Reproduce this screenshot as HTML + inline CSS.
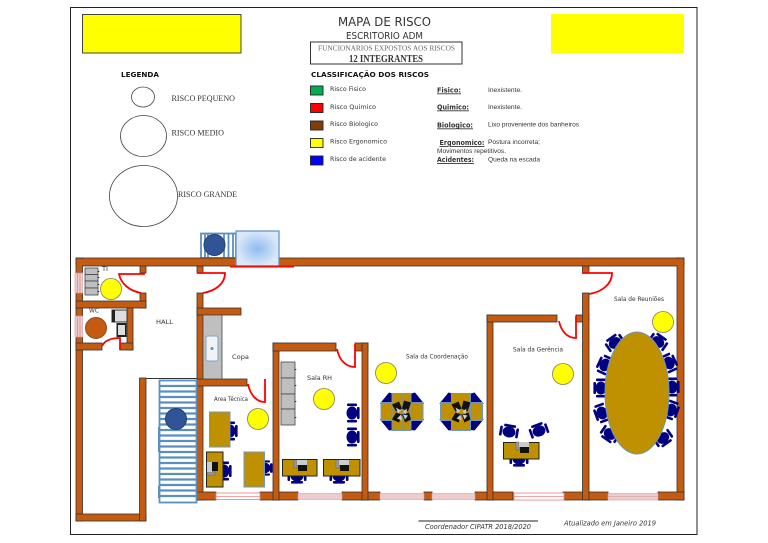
<!DOCTYPE html>
<html><head><meta charset="utf-8"><style>
html,body{margin:0;padding:0;background:#fff}
svg{display:block}
text{font-family:"DejaVu Sans","Liberation Sans",sans-serif;fill:#333}
.s{font-family:"Liberation Serif",serif;fill:#333}
.l{font-family:"Liberation Sans",sans-serif}
.w{fill:#c55a11;stroke:#333;stroke-width:.8}
.d{fill:none;stroke:#f00;stroke-width:1.8}
.y{fill:#ff0;stroke:#7f7f50;stroke-width:.8}
.k{fill:#bf9000;stroke:#222;stroke-width:1}
.kb{fill:#bf9000;stroke:#6c97c0;stroke-width:1}
.g{fill:#bfbfbf;stroke:#444;stroke-width:.8}
.win{fill:#eccccc;stroke:#dba8a8;stroke-width:.7}
.win2{fill:#fff;stroke:#e88;stroke-width:.9}
</style></head><body>
<svg width="768" height="543" viewBox="0 0 768 543" xmlns="http://www.w3.org/2000/svg">
<defs>
<radialGradient id="gb"><stop offset="0" stop-color="#8fbcf0"/><stop offset="1" stop-color="#dbe8f8"/></radialGradient>
<g id="chair" fill="#000080"><ellipse cx="0" cy="0" rx="5.5" ry="6.5"/><rect x="-5" y="-9.500" width="10" height="2.600" rx="1"/><rect x="-5" y="6.900" width="10" height="2.600" rx="1"/><rect x="5" y="-6" width="2.600" height="12" rx="1"/></g>
<g id="pc"><rect x="-8" y="-6" width="3" height="8" fill="#999" stroke="#555" stroke-width=".4"/><rect x="-5" y="-6" width="10" height="5" fill="#ccc"/><rect x="-4" y="-1" width="9" height="6" fill="#111"/></g>
<g id="cluster">
<path d="M-22-8L-13-19-6-17-8-6-20-6ZM22-8L13-19 6-17 8-6 20-6ZM-22 8L-13 19-6 18-8 6-20 6ZM22 8L13 19 6 18 8 6 20 6Z" fill="#000080"/>
<rect x="-21" y="-9" width="42" height="18" fill="#bf9000" stroke="#6c97c0"/><rect x="-10" y="-18" width="19" height="37" fill="#bf9000" stroke="#6c97c0"/><path d="M-21 0H21M0-18V19" stroke="#6c97c0" fill="none"/>
<path d="M-10-7L-3-10 0-3-6 0ZM9-9L2-11 0-3 6 0ZM-10 8L-3 11 0 3-6 1ZM9 8L3 11 0 3 7 1Z" fill="#111"/><path d="M-6-4L-1-1-4 2ZM5-3L1 0 4 3ZM-5 7L-1 3 0 9ZM3 8L1 3 6 4Z" fill="#ccc"/></g>
</defs>
<rect width="768" height="543" fill="#fff"/>
<rect x="70.500" y="7.500" width="626.500" height="527" fill="#fff" stroke="#222" stroke-width="1"/>
<rect x="82.500" y="14.500" width="158.500" height="38.500" fill="#ff0" stroke="#444"/>
<rect x="551" y="14" width="133" height="39" fill="#ff0"/>
<text x="338" y="26" font-size="12" textLength="93" lengthAdjust="spacingAndGlyphs">MAPA DE RISCO</text>
<text x="346" y="39" font-size="10" textLength="77" lengthAdjust="spacingAndGlyphs">ESCRITORIO ADM</text>
<rect x="310.500" y="42" width="151.500" height="22" fill="#fff" stroke="#333"/>
<text class="s" x="318" y="50.500" font-size="7" textLength="137" lengthAdjust="spacingAndGlyphs" style="fill:#666">FUNCIONARIOS EXPOSTOS AOS RISCOS</text>
<text class="s" x="349" y="62" font-size="10" font-weight="bold" textLength="74" lengthAdjust="spacingAndGlyphs">12 INTEGRANTES</text>
<text x="121" y="77" font-size="7" font-weight="bold" textLength="38" lengthAdjust="spacingAndGlyphs" style="fill:#111">LEGENDA</text>
<text x="311" y="77" font-size="7" font-weight="bold" textLength="118" lengthAdjust="spacingAndGlyphs" style="fill:#111">CLASSIFICAÇÃO DOS RISCOS</text>
<g fill="#fff" stroke="#444" stroke-width=".8"><ellipse cx="143" cy="97" rx="11.500" ry="10"/><ellipse cx="143.500" cy="136" rx="23" ry="20.500"/><ellipse cx="143.500" cy="196" rx="34" ry="30.500"/></g>
<text class="s" x="171.500" y="101" font-size="8.500" textLength="63.500" lengthAdjust="spacingAndGlyphs">RISCO PEQUENO</text>
<text class="s" x="171.500" y="135.500" font-size="8.500" textLength="52.500" lengthAdjust="spacingAndGlyphs">RISCO MEDIO</text>
<text class="s" x="178" y="197" font-size="8.500" textLength="59" lengthAdjust="spacingAndGlyphs">RISCO GRANDE</text>
<g stroke="#222" stroke-width=".9"><rect x="310.500" y="86" width="12.500" height="9" fill="#00b050"/><rect x="310.500" y="103.500" width="12.500" height="9" fill="#f00"/><rect x="310.500" y="121" width="12.500" height="9" fill="#843c0c"/><rect x="310.500" y="138.500" width="12.500" height="9" fill="#ff0"/><rect x="310.500" y="156" width="12.500" height="9" fill="#00f"/></g>
<g font-size="6.500"><text x="330" y="91" textLength="36" lengthAdjust="spacingAndGlyphs">Risco Fisico</text><text x="330" y="109" textLength="46" lengthAdjust="spacingAndGlyphs">Risco Quimico</text><text x="330" y="126" textLength="48" lengthAdjust="spacingAndGlyphs">Risco Biologico</text><text x="330" y="143.500" textLength="57" lengthAdjust="spacingAndGlyphs">Risco Ergonomico</text><text x="330" y="161" textLength="56" lengthAdjust="spacingAndGlyphs">Risco de acidente</text></g>
<g font-size="7" font-weight="bold" text-decoration="underline"><text x="437" y="92.500" textLength="24" lengthAdjust="spacingAndGlyphs">Fisico:</text><text x="437" y="109.500" textLength="32" lengthAdjust="spacingAndGlyphs">Quimico:</text><text x="437" y="127.500" textLength="36" lengthAdjust="spacingAndGlyphs">Biologico:</text><text x="439.500" y="145" textLength="45" lengthAdjust="spacingAndGlyphs">Ergonomico:</text><text x="437" y="162" textLength="37" lengthAdjust="spacingAndGlyphs">Acidentes:</text></g>
<g font-size="6"><text class="l" x="488" y="92" textLength="34" lengthAdjust="spacingAndGlyphs">Inexistente.</text><text class="l" x="488" y="109" textLength="34" lengthAdjust="spacingAndGlyphs">Inexistente.</text><text class="l" x="488" y="126.500" textLength="91" lengthAdjust="spacingAndGlyphs">Lixo proveniente dos banheiros</text><text class="l" x="488" y="144" textLength="52" lengthAdjust="spacingAndGlyphs">Postura incorreta;</text><text class="l" x="437" y="153" textLength="69" lengthAdjust="spacingAndGlyphs">Movimentos repetitivos.</text><text class="l" x="488" y="161.500" textLength="52" lengthAdjust="spacingAndGlyphs">Queda na escada</text></g>

<!-- AC units -->
<rect x="201" y="233.500" width="35" height="24.500" fill="#fff" stroke="#5b8fc0" stroke-width="1.800"/>
<path d="M205 233V258M208 233V258M224 233V258M228.500 233V258M233 233V258" stroke="#5b8fc0" stroke-width="1.800"/>
<circle cx="214.500" cy="245" r="10.500" fill="#2f5597" stroke="#223f70"/>

<!-- walls -->
<rect class="w" x="76" y="258" width="608" height="8"/>
<rect class="w" x="677" y="258" width="7" height="242"/>
<rect class="w" x="76" y="258" width="6.500" height="15"/>
<rect class="w" x="76" y="293" width="6.500" height="23"/>
<rect class="w" x="76" y="337" width="6.500" height="184"/>
<rect class="w" x="76" y="514" width="70" height="7"/>
<rect class="w" x="139.500" y="378" width="6.500" height="143"/>
<rect class="w" x="140" y="266" width="6" height="7"/>
<rect class="w" x="140" y="293" width="6" height="15"/>
<rect class="w" x="76" y="301" width="70" height="7"/>
<rect class="w" x="127" y="308" width="6" height="42"/>
<rect class="w" x="76" y="343" width="26" height="7"/>
<rect class="w" x="120" y="343" width="13" height="7"/>
<rect class="w" x="197" y="266" width="6" height="7"/>
<rect class="w" x="197" y="293" width="6" height="207"/>
<rect class="w" x="197" y="308" width="44" height="7"/>
<rect class="w" x="197" y="379" width="50" height="7"/>
<rect class="w" x="197" y="492" width="19" height="8"/>
<rect class="w" x="260" y="492" width="38" height="8"/>
<rect class="w" x="342" y="492" width="38" height="8"/>
<rect class="w" x="424" y="492" width="8" height="8"/>
<rect class="w" x="475" y="492" width="38" height="8"/>
<rect class="w" x="563" y="492" width="45" height="8"/>
<rect class="w" x="658" y="492" width="26" height="8"/>
<rect class="w" x="273" y="343" width="6" height="157"/>
<rect class="w" x="273" y="343" width="63" height="8"/>
<rect class="w" x="355" y="343" width="13" height="8"/>
<rect class="w" x="362" y="343" width="6" height="157"/>
<rect class="w" x="487" y="315" width="6" height="185"/>
<rect class="w" x="487" y="315" width="70" height="7"/>
<rect class="w" x="576" y="315" width="13" height="7"/>
<rect class="w" x="582.500" y="293" width="6.500" height="207"/>
<rect class="w" x="582.500" y="266" width="6.500" height="7"/>
<g fill="#c55a11"><rect x="76.500" y="259" width="607" height="6.500"/><rect x="677.500" y="493" width="6" height="6.500"/><rect x="197.500" y="380" width="5" height="5"/><rect x="273.500" y="493" width="5" height="6"/><rect x="362.500" y="493" width="5" height="6"/><rect x="487.500" y="493" width="5" height="6"/><rect x="583" y="493" width="5.500" height="6"/><rect x="273.500" y="344" width="5" height="6"/><rect x="362.500" y="344" width="5" height="6"/><rect x="487.500" y="316" width="5" height="5"/><rect x="583" y="316" width="5.500" height="5"/><rect x="197.500" y="309" width="5" height="5"/><rect x="127.500" y="302" width="5" height="5"/><rect x="127.500" y="344" width="5" height="5"/><rect x="76.500" y="302" width="5.500" height="5"/><rect x="76.500" y="344" width="5.500" height="5"/><rect x="76.500" y="515" width="5.500" height="5.500"/><rect x="140" y="515" width="5.500" height="5.500"/><rect x="140.500" y="302" width="5" height="5"/></g>
<path d="M146 378.500H197" stroke="#333" stroke-width="1"/>

<!-- windows -->
<rect class="win" x="75" y="273" width="7.500" height="20"/><rect class="win" x="75" y="316" width="7.500" height="21"/>
<path d="M77.500 273V293M80 273V293M77.500 316V337M80 316V337" stroke="#e08a8a" stroke-width=".8"/>
<rect class="win2" x="216" y="493" width="44" height="6.500"/>
<rect class="win" x="298" y="493.500" width="44" height="6"/>
<rect class="win" x="380" y="493.500" width="44" height="6"/>
<rect class="win" x="432" y="493.500" width="43" height="6"/>
<rect class="win2" x="514" y="493" width="50" height="7"/>
<rect class="win" x="608" y="493.500" width="50" height="6.500"/>
<path d="M216 496.500H260M514 496.500H564" stroke="#e88" stroke-width=".8"/>
<path d="M608 496.500H658" stroke="#d9a8a8" stroke-width=".8"/>

<!-- blue gradient -->
<rect x="236" y="231" width="43" height="35" fill="url(#gb)" stroke="#5b8fc0" stroke-width="1.200"/>
<path d="M230 266.500H294" stroke="#f00" stroke-width="2"/>

<!-- doors -->
<path class="d" d="M145 274H119C121 284 130 291 141 293"/>
<path class="d" d="M197 273H225C225 284 215 291 203 293"/>
<path class="d" d="M120 350V338C112 338 105 340 102 346"/>
<path class="d" d="M265 379V402C256 402 250 394 248 384"/>
<path class="d" d="M355 344V367C346 367 339 360 337 349"/>
<path class="d" d="M576 316V338C567 338 561 331 559 321"/>
<path class="d" d="M582 273H612C612 284 602 292 589 294"/>

<!-- stairs -->
<rect x="158" y="427" width="3" height="25" fill="#5b8fc0"/><rect x="158" y="486" width="3" height="12" fill="#5b8fc0"/>
<rect x="159.500" y="380.500" width="37" height="122" fill="#fff" stroke="#5b8fc0" stroke-width="1.800"/>
<path d="M160 386H196M160 391.500H196M160 397H196M160 402.500H196M160 408H196M160 413.500H196M160 419H196M160 424.500H196M160 430H196M160 435.500H196M160 441H196M160 446.500H196M160 452H196M160 457.500H196M160 463H196M160 468.500H196M160 474H196M160 479.500H196M160 485H196M160 490.500H196M160 496H196" stroke="#5b8fc0" stroke-width="2.200" fill="none"/>
<circle cx="176" cy="419" r="10.500" fill="#2f5597" stroke="#223f70"/>

<!-- copa counter -->
<rect x="203" y="315" width="19" height="64" fill="#bfbfbf" stroke="#444" stroke-width=".8"/>
<rect x="206" y="336" width="12" height="25" rx="2" fill="#f2f2f2" stroke="#7ea6cc"/>
<circle cx="212" cy="348.500" r="1.500" fill="#5b8fc0"/>

<!-- TI / WC -->
<rect class="g" x="85" y="268" width="13" height="6.500"/><rect class="g" x="85" y="274.500" width="13" height="6.500"/><rect class="g" x="85" y="281" width="13" height="7"/><rect class="g" x="85" y="288" width="13" height="7"/>
<path d="M98.500 271v1M98.500 277v1M98.500 284v1M98.500 291v1" stroke="#222" stroke-width="1.500"/>
<rect x="112" y="310" width="15" height="12" fill="#ddd" stroke="#333"/><rect x="112" y="310" width="3" height="12" fill="#222"/>
<rect x="116.500" y="323" width="10" height="14" fill="#222"/><rect x="118" y="325" width="7" height="10" fill="#ddd"/>
<circle class="y" cx="111" cy="289" r="10.500"/>
<circle cx="96" cy="328" r="10.500" fill="#c55a11" stroke="#8a4a20"/>
<circle class="y" cx="258" cy="419" r="10.500"/>
<circle class="y" cx="324" cy="399" r="10.500"/>
<circle class="y" cx="386" cy="373" r="10.500"/>
<circle class="y" cx="563" cy="374" r="10.500"/>
<circle class="y" cx="663" cy="322" r="10.500"/>

<!-- Area tecnica -->
<use href="#chair" transform="translate(230 431)"/>
<rect class="kb" x="209.500" y="412" width="20.500" height="35"/>
<use href="#chair" transform="translate(224 471)"/>
<rect class="k" x="206.500" y="452" width="16.500" height="35"/>
<use href="#pc" transform="translate(213 467) rotate(-90)"/>
<use href="#chair" transform="translate(265 468) scale(1 .8)"/>
<rect class="kb" x="244" y="452" width="20.500" height="35"/>

<!-- RH -->
<rect class="g" x="281" y="362" width="14" height="16"/><rect class="g" x="281" y="378" width="14" height="16"/><rect class="g" x="281" y="394" width="14" height="15"/><rect class="g" x="281" y="409" width="14" height="16"/>
<path d="M295.500 369v1M295.500 385v1M295.500 401v1M295.500 417v1" stroke="#222" stroke-width="1.500"/>
<use href="#chair" transform="translate(352 413)"/>
<use href="#chair" transform="translate(352 437)"/>
<use href="#chair" transform="translate(297 476) rotate(90)"/>
<use href="#chair" transform="translate(339 476) rotate(90)"/>
<rect class="k" x="282.500" y="459.500" width="34.500" height="16.500"/>
<rect class="k" x="323.500" y="459.500" width="36.500" height="16.500"/>
<use href="#pc" transform="translate(302 466)"/>
<use href="#pc" transform="translate(344 466)"/>

<!-- Coordenacao -->
<use href="#cluster" transform="translate(402 411.500)"/>
<use href="#cluster" transform="translate(461.500 411.500)"/>

<!-- Gerencia -->
<use href="#chair" transform="translate(509 432) rotate(-80)"/>
<use href="#chair" transform="translate(539 431) rotate(-110)"/>
<use href="#chair" transform="translate(519 459) rotate(90)"/>
<rect class="k" x="503.500" y="442.500" width="35.500" height="16.500"/>
<use href="#pc" transform="translate(524 448)"/>

<!-- Reunioes -->
<use href="#chair" transform="translate(615 343) rotate(-125)"/>
<use href="#chair" transform="translate(605 365) rotate(-155)"/>
<use href="#chair" transform="translate(601 388) rotate(180)"/>
<use href="#chair" transform="translate(602 413) rotate(160)"/>
<use href="#chair" transform="translate(610 434) rotate(125)"/>
<use href="#chair" transform="translate(658 342) rotate(-55)"/>
<use href="#chair" transform="translate(669 363) rotate(-25)"/>
<use href="#chair" transform="translate(672 387)"/>
<use href="#chair" transform="translate(671 410) rotate(20)"/>
<use href="#chair" transform="translate(663 438) rotate(55)"/>
<ellipse cx="637" cy="393" rx="32" ry="61" fill="#bf9000" stroke="#6c97c0"/>

<!-- room labels -->
<g font-size="6.500"><text x="156" y="324" textLength="17" lengthAdjust="spacingAndGlyphs">HALL</text><text x="232" y="359" textLength="17" lengthAdjust="spacingAndGlyphs">Copa</text><text x="214" y="401" textLength="34" lengthAdjust="spacingAndGlyphs">Area Técnica</text><text x="307" y="380" textLength="25" lengthAdjust="spacingAndGlyphs">Sala RH</text><text x="406" y="358.500" textLength="62" lengthAdjust="spacingAndGlyphs">Sala da Coordenação</text><text x="513" y="351.500" textLength="50" lengthAdjust="spacingAndGlyphs">Sala da Gerência</text><text x="614" y="301" textLength="50" lengthAdjust="spacingAndGlyphs">Sala de Reuniões</text><text x="102" y="271" textLength="6" lengthAdjust="spacingAndGlyphs">TI</text><text x="89" y="312.500" textLength="10" lengthAdjust="spacingAndGlyphs">WC</text></g>

<path d="M418.500 521H538" stroke="#222" stroke-width="1"/>
<text x="425" y="529" font-size="7" font-style="italic" textLength="106" lengthAdjust="spacingAndGlyphs">Coordenador CIPATR 2018/2020</text>
<text x="564" y="525.500" font-size="7" font-style="italic" textLength="92" lengthAdjust="spacingAndGlyphs">Atualizado em Janeiro  2019</text>
</svg>
</body></html>
